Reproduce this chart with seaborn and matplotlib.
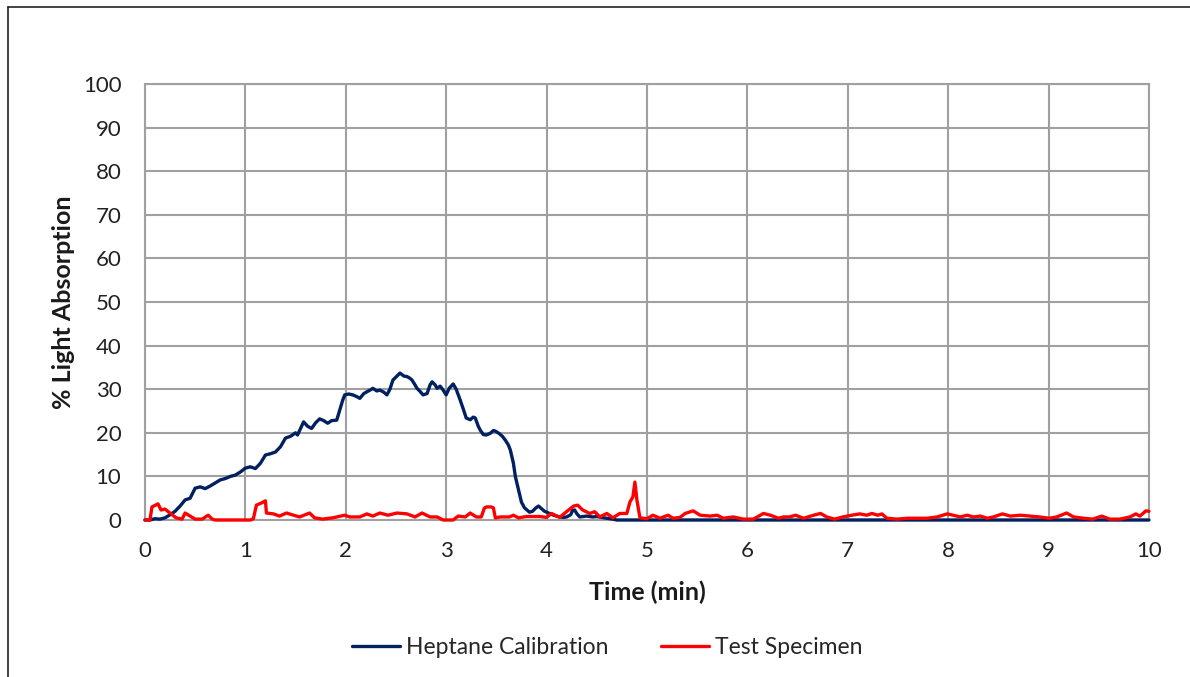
import pandas as pd
import matplotlib
matplotlib.use("Agg")
import matplotlib.pyplot as plt
import seaborn as sns
from matplotlib.lines import Line2D

# Heptane calibration run (time in min, % light absorption)
hep_time = [0.00, 0.05, 0.10, 0.15, 0.20, 0.25, 0.30, 0.35, 0.40, 0.45, 0.50, 0.55, 0.60, 0.65,
            0.70, 0.75, 0.80, 0.85, 0.90, 0.95, 1.00, 1.05, 1.10, 1.15, 1.20, 1.25, 1.30, 1.35,
            1.40, 1.45, 1.50, 1.52, 1.58, 1.62, 1.66, 1.70, 1.74, 1.78, 1.82, 1.86, 1.91, 1.94,
            1.97, 1.99, 2.03, 2.07, 2.11, 2.14, 2.18, 2.21, 2.25, 2.27, 2.31, 2.34, 2.38, 2.41,
            2.44, 2.47, 2.51, 2.54, 2.58, 2.61, 2.64, 2.66, 2.69, 2.71, 2.74, 2.77, 2.81, 2.84,
            2.86, 2.89, 2.91, 2.94, 2.97, 3.00, 3.03, 3.07, 3.10, 3.14, 3.17, 3.20, 3.24, 3.27,
            3.29, 3.32, 3.34, 3.37, 3.40, 3.44, 3.47, 3.49, 3.53, 3.56, 3.59, 3.62, 3.64, 3.67,
            3.69, 3.72, 3.75, 3.78, 3.81, 3.83, 3.86, 3.89, 3.92, 3.95, 3.98, 4.00, 4.04, 4.07,
            4.10, 4.13, 4.17, 4.20, 4.24, 4.26, 4.28, 4.30, 4.33, 4.37, 4.40, 4.46, 4.50, 4.55,
            4.60, 4.66, 4.70, 5.00, 6.00, 7.00, 8.00, 9.00, 10.00]
hep_val = [0.0, 0.0, 0.3, 0.2, 0.5, 1.2, 2.0, 3.2, 4.6, 5.0, 7.3, 7.6, 7.2, 7.8,
           8.5, 9.2, 9.5, 10.0, 10.3, 11.0, 11.9, 12.2, 11.8, 13.0, 14.9, 15.2, 15.6, 16.8,
           18.8, 19.2, 20.0, 19.5, 22.5, 21.5, 21.0, 22.3, 23.2, 22.8, 22.2, 22.8, 22.9, 25.2,
           27.5, 28.7, 28.9, 28.7, 28.3, 27.9, 29.0, 29.4, 29.9, 30.2, 29.6, 29.8, 29.3, 28.7,
           30.0, 32.1, 33.0, 33.7, 33.0, 32.9, 32.5, 32.1, 31.0, 30.2, 29.5, 28.7, 29.0, 31.0,
           31.7, 31.0, 30.2, 30.7, 29.8, 28.7, 30.2, 31.2, 30.0, 27.5, 25.5, 23.4, 23.0, 23.6,
           23.4, 21.5, 20.6, 19.6, 19.5, 19.9, 20.5, 20.4, 19.8, 19.2, 18.3, 17.2, 16.0, 13.0,
           9.9, 7.0, 4.1, 2.8, 2.2, 1.8, 2.0, 2.7, 3.2, 2.6, 2.0, 1.8, 1.4, 1.1,
           0.9, 0.7, 0.6, 0.7, 1.2, 2.2, 2.3, 1.5, 0.7, 0.8, 0.9, 0.7, 0.8, 0.6,
           0.4, 0.2, 0.0, 0.0, 0.0, 0.0, 0.0, 0.0, 0.0]

# Test specimen run
spec_time = [0.00, 0.05, 0.07, 0.13, 0.16, 0.20, 0.25, 0.31, 0.37, 0.40, 0.45, 0.50, 0.57, 0.63,
             0.67, 0.70, 1.05, 1.08, 1.11, 1.16, 1.20, 1.21, 1.28, 1.34, 1.41, 1.48, 1.54, 1.64,
             1.69, 1.77, 1.87, 1.99, 2.04, 2.14, 2.21, 2.27, 2.34, 2.42, 2.51, 2.61, 2.69, 2.76,
             2.84, 2.91, 2.97, 3.07, 3.12, 3.19, 3.24, 3.30, 3.35, 3.38, 3.40, 3.45, 3.47, 3.49,
             3.54, 3.63, 3.67, 3.72, 3.80, 3.93, 4.00, 4.05, 4.13, 4.22, 4.27, 4.31, 4.36, 4.43,
             4.48, 4.53, 4.60, 4.66, 4.73, 4.80, 4.83, 4.86, 4.88, 4.90, 4.93, 5.00, 5.06, 5.13,
             5.21, 5.26, 5.33, 5.38, 5.46, 5.53, 5.63, 5.70, 5.76, 5.86, 5.96, 6.06, 6.16, 6.23,
             6.31, 6.36, 6.42, 6.48, 6.56, 6.66, 6.73, 6.79, 6.87, 6.95, 7.04, 7.12, 7.19, 7.24,
             7.30, 7.34, 7.39, 7.49, 7.59, 7.69, 7.79, 7.89, 7.99, 8.05, 8.12, 8.19, 8.25, 8.32,
             8.39, 8.45, 8.54, 8.62, 8.72, 8.81, 8.91, 9.01, 9.08, 9.18, 9.25, 9.35, 9.44, 9.53,
             9.61, 9.71, 9.81, 9.87, 9.91, 9.97, 10.00]
spec_val = [0.0, 0.0, 3.0, 3.7, 2.3, 2.5, 1.6, 0.5, 0.2, 1.6, 0.9, 0.2, 0.2, 1.1,
            0.2, 0.0, 0.0, 0.3, 3.4, 3.9, 4.4, 1.6, 1.4, 0.9, 1.6, 1.1, 0.7, 1.6,
            0.5, 0.2, 0.5, 1.1, 0.7, 0.7, 1.4, 0.9, 1.6, 1.1, 1.6, 1.4, 0.7, 1.6,
            0.7, 0.7, 0.0, 0.0, 0.9, 0.7, 1.6, 0.7, 0.7, 2.7, 3.0, 3.0, 2.8, 0.5,
            0.7, 0.7, 1.1, 0.5, 0.8, 0.8, 0.6, 1.5, 0.6, 2.3, 3.2, 3.4, 2.3, 1.5,
            1.9, 0.7, 1.5, 0.5, 1.5, 1.5, 4.1, 5.3, 8.7, 4.6, 0.5, 0.3, 1.1, 0.4,
            1.1, 0.4, 0.6, 1.5, 2.1, 1.1, 0.9, 1.1, 0.4, 0.7, 0.2, 0.2, 1.5, 1.1,
            0.4, 0.7, 0.7, 1.1, 0.4, 1.1, 1.5, 0.7, 0.2, 0.7, 1.1, 1.4, 1.1, 1.5,
            1.1, 1.4, 0.4, 0.2, 0.4, 0.4, 0.4, 0.7, 1.4, 1.1, 0.7, 1.1, 0.7, 0.9,
            0.4, 0.7, 1.4, 0.9, 1.1, 0.9, 0.7, 0.4, 0.7, 1.6, 0.7, 0.4, 0.2, 0.9,
            0.2, 0.2, 0.7, 1.4, 0.9, 2.1, 2.0]

hep = pd.DataFrame({"Time": hep_time, "Absorption": hep_val})
spec = pd.DataFrame({"Time": spec_time, "Absorption": spec_val})

sns.set_style("white")
plt.rcParams["font.family"] = ["Lato", "DejaVu Sans"]

fig = plt.figure(figsize=(11.9, 6.77), dpi=100)
ax = fig.add_axes([0.1218, 0.2319, 0.8437, 0.644])

sns.lineplot(data=hep, x="Time", y="Absorption", color="#002060", lw=2.4,
             label="Heptane Calibration", ax=ax, clip_on=False, zorder=3)
sns.lineplot(data=spec, x="Time", y="Absorption", color="#FF0000", lw=2.4,
             label="Test Specimen", ax=ax, clip_on=False, zorder=4)

ax.set_xlim(0, 10)
ax.set_ylim(0, 100)
ax.set_xticks(range(0, 11))
ax.set_yticks(range(0, 101, 10))
ax.grid(True, color="#A0A0A0", lw=1.5)
ax.set_axisbelow(True)
for s in ax.spines.values():
    s.set_color("#A0A0A0")
    s.set_linewidth(1.5)
ax.tick_params(axis="both", length=0, labelsize=16, colors="#222222")
ax.tick_params(axis="y", pad=17)
ax.tick_params(axis="x", pad=15)

ax.set_xlabel("Time (min)", fontsize=18, fontweight="bold", color="#1a1a1a")
ax.set_ylabel("% Light Absorption", fontsize=18, fontweight="bold", color="#1a1a1a")
ax.xaxis.set_label_coords(0.5, -0.138)
ax.yaxis.set_label_coords(-0.07, 0.5)

ax.get_legend().remove()
h, l = ax.get_legend_handles_labels()
fig.legend(h, l, loc="center", bbox_to_anchor=(0.51, 0.044), ncol=2, frameon=False,
           fontsize=16.5, handlelength=2.1, handletextpad=0.25, columnspacing=2.3)

# outer chart frame (left and top edges)
fig.add_artist(Line2D([8 / 1190, 8 / 1190], [0, 1 - 7 / 677], color="#222222", lw=1.2))
fig.add_artist(Line2D([8 / 1190, 1], [1 - 7 / 677, 1 - 7 / 677], color="#222222", lw=1.2))

fig.savefig("out.png", dpi=100)
